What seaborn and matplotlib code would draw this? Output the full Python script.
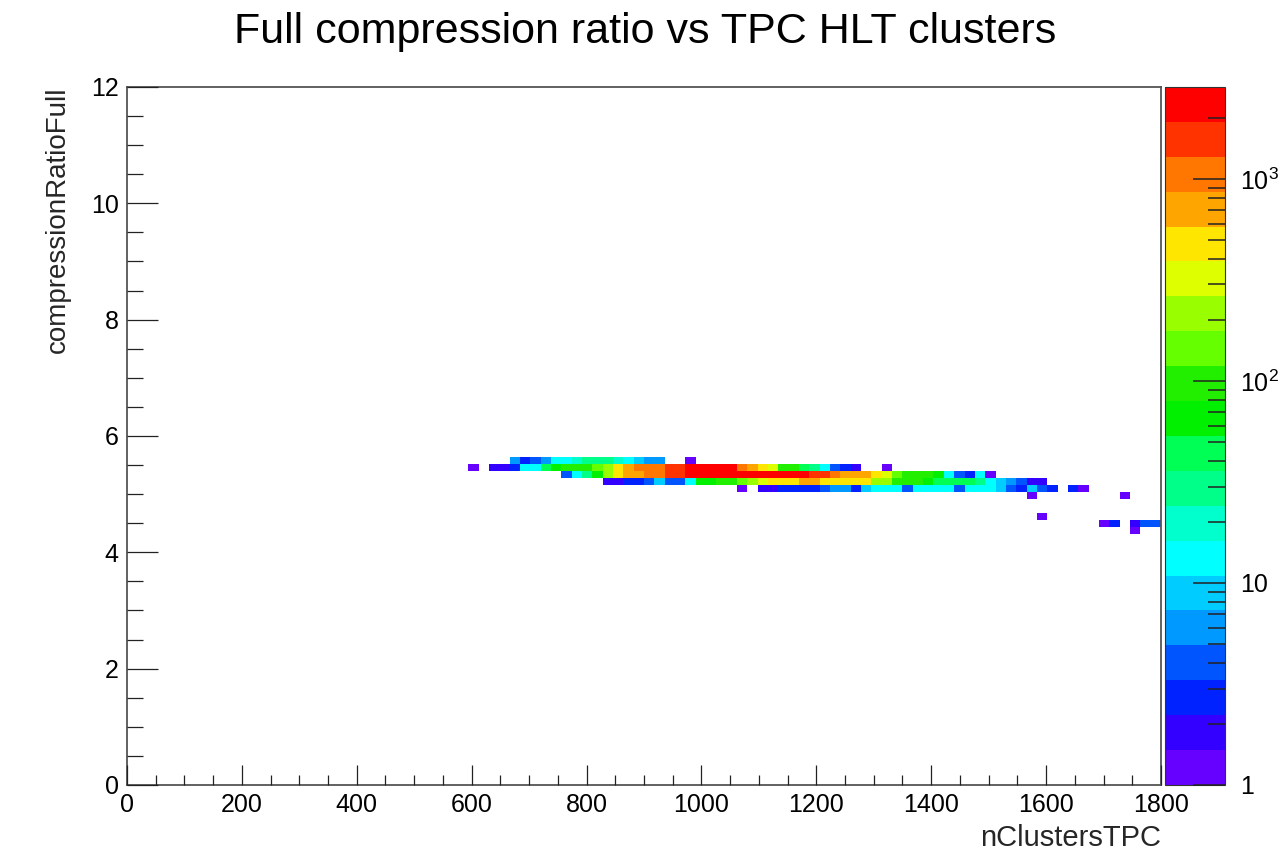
import numpy as np
import pandas as pd
import matplotlib
matplotlib.use("Agg")
import matplotlib.pyplot as plt
from matplotlib.colors import ListedColormap, LogNorm
from matplotlib.ticker import MultipleLocator, LogLocator, NullFormatter
import seaborn as sns

# ---------------------------------------------------------------------------
# Histogram content: entries per (nClustersTPC, compressionRatioFull) cell.
# Binning is 100 x 100 over [0, 1800] x [0, 12].
# Each row gives the ratio bin centre, the cluster bin centre of the first
# listed cell, and the entries of consecutive cells along nClustersTPC.
# ---------------------------------------------------------------------------
CLUSTER_RANGE = (0, 1800)
RATIO_RANGE = (0, 12)
N_BINS = 100
CLUSTER_BIN = 18.0

row_ratio = [5.58, 5.46, 5.34, 5.22, 5.10, 4.98, 4.62, 4.50, 4.38]
row_first_cluster = [675, 603, 765, 837, 1071, 1575, 1593, 1701, 1755]

counts_558 = [6, 3, 4, 6, 12, 15, 22, 25, 35, 25, 18, 15, 10, 6, 5, 0, 0, 1]
counts_546 = [1, 0, 2, 2, 3, 12, 15, 40, 60, 80, 90, 100, 150, 250, 500, 800,
              900, 1100, 1200, 1700, 1800, 2400, 2500, 2500, 2450, 2350, 900,
              600, 550, 300, 90, 80, 40, 25, 15, 4, 3, 2, 0, 0, 1]
counts_534 = [4, 13, 25, 70, 200, 550, 750, 800, 900, 1200, 1300, 1400, 2000,
              2400, 2600, 2800, 2700, 2600, 2500, 2500, 2400, 2400, 2300, 2000,
              1900, 1300, 1100, 850, 800, 600, 550, 350, 130, 110, 100, 90, 70,
              15, 4, 3, 12, 1]
counts_522 = [2, 2, 3, 3, 4, 10, 4, 4, 15, 55, 70, 80, 90, 150, 250, 350, 400,
              500, 550, 600, 600, 580, 550, 500, 500, 480, 250, 200, 100, 90, 80,
              60, 50, 40, 45, 40, 30, 15, 10, 6, 4, 2, 2]
counts_510 = [1, 0, 2, 2, 3, 3, 3, 3, 4, 6, 5, 3, 10, 14, 15, 14, 4, 13, 15, 14,
              12, 4, 13, 15, 12, 8, 4, 3, 9, 4, 3, 0, 3, 1]
counts_498 = [1, 0, 0, 0, 0, 0, 0, 0, 0, 1]
counts_462 = [1]
counts_450 = [1, 3, 0, 2, 4, 4]
counts_438 = [1]

row_counts = [counts_558, counts_546, counts_534, counts_522, counts_510,
              counts_498, counts_462, counts_450, counts_438]

# z-axis range of the colour scale
Z_MIN, Z_MAX = 1, 2850

# 20-level rainbow palette, low -> high
palette_colors = [
    "#6600ff", "#3300ff", "#0022ff", "#0055ff", "#0099ff",
    "#00ccff", "#00ffff", "#00ffcc", "#00ff88", "#00ff55",
    "#00f000", "#22ee00", "#66ff00", "#99ff00", "#ddff00",
    "#ffe600", "#ffa500", "#ff7700", "#ff3300", "#ff0000",
]

# ---------------------------------------------------------------------------
records = []
for ratio, first, counts in zip(row_ratio, row_first_cluster, row_counts):
    for i, c in enumerate(counts):
        if c > 0:
            records.append((first + i * CLUSTER_BIN, ratio, c))
df = pd.DataFrame(records, columns=["nClustersTPC", "compressionRatioFull", "entries"])

sns.set_theme(style="white")
plt.rcParams["font.family"] = ["Liberation Sans", "DejaVu Sans"]
plt.rcParams["mathtext.fontset"] = "custom"
plt.rcParams["mathtext.rm"] = "Liberation Sans"
plt.rcParams["axes.axisbelow"] = False
plt.rcParams["text.color"] = "black"
plt.rcParams["xtick.color"] = "#222222"
plt.rcParams["ytick.color"] = "#222222"
plt.rcParams["xtick.labelcolor"] = "black"
plt.rcParams["ytick.labelcolor"] = "black"

fig = plt.figure(figsize=(12.81, 8.59), dpi=100)
ax = fig.add_axes([0.0991, 0.0862, 0.8072, 0.8126])
cax = fig.add_axes([0.9095, 0.0862, 0.0468, 0.8126])

cmap = ListedColormap(palette_colors)
sns.histplot(
    data=df, x="nClustersTPC", y="compressionRatioFull", weights="entries",
    bins=(N_BINS, N_BINS), binrange=(CLUSTER_RANGE, RATIO_RANGE),
    cmap=cmap, cbar=False, ax=ax,
)
mesh = ax.collections[0]
mesh.set_norm(LogNorm(vmin=Z_MIN, vmax=Z_MAX))

ax.set_axisbelow(False)
ax.set_xlim(*CLUSTER_RANGE)
ax.set_ylim(*RATIO_RANGE)
ax.grid(False)
ax.xaxis.set_major_locator(MultipleLocator(200))
ax.xaxis.set_minor_locator(MultipleLocator(50))
ax.yaxis.set_major_locator(MultipleLocator(2))
ax.yaxis.set_minor_locator(MultipleLocator(0.5))

ax.tick_params(axis="x", which="major", direction="in", bottom=True, top=False,
               length=14.4, width=0.9, labelsize=18, pad=6)
ax.tick_params(axis="x", which="minor", direction="in", bottom=True, top=False,
               length=7.2, width=0.9)
ax.tick_params(axis="y", which="major", direction="in", left=True, right=False,
               length=22.3, width=0.9, labelsize=18, pad=6)
ax.tick_params(axis="y", which="minor", direction="in", left=True, right=False,
               length=11.2, width=0.9)

for side in ax.spines.values():
    side.set_visible(True)
    side.set_color("#555555")
    side.set_linewidth(1.3)

ax.set_xlabel("nClustersTPC", fontsize=21, loc="right", labelpad=5)
ax.set_ylabel("compressionRatioFull", fontsize=20, loc="top", labelpad=14)

fig.text(0.5035, 0.963, "Full compression ratio vs TPC HLT clusters",
         ha="center", va="center", fontsize=31)

# colour scale
cb = fig.colorbar(mesh, cax=cax)
cax.set_axisbelow(False)
cb.outline.set_linewidth(0.8)
cb.outline.set_edgecolor("#333333")
cb.set_ticks([1, 10, 100, 1000],
             labels=["1", "10", r"$\mathregular{10^{2}}$", r"$\mathregular{10^{3}}$"])
cax.yaxis.set_minor_locator(LogLocator(base=10, subs=np.arange(2, 10)))
cax.yaxis.set_minor_formatter(NullFormatter())
cax.tick_params(axis="y", which="both", left=False, right=True,
                labelleft=False, labelright=True)
cax.tick_params(axis="y", which="major", direction="in", length=23, width=1.1,
                color="#222222", labelsize=18, pad=11)
cax.tick_params(axis="y", which="minor", direction="in", length=12, width=1.1,
                color="#222222")

fig.savefig("out.png", dpi=100)
